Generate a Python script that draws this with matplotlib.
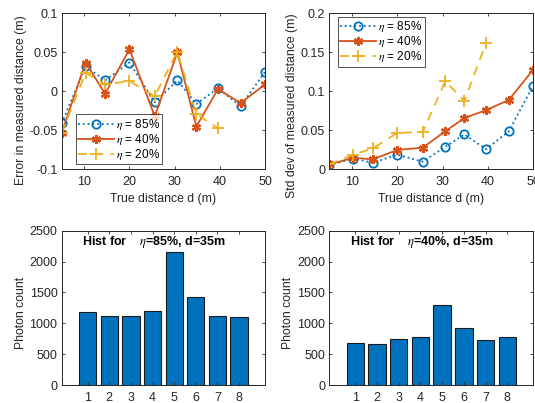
import numpy as np
import matplotlib.pyplot as plt

plt.rcParams['font.family'] = ['Liberation Sans', 'DejaVu Sans']
plt.rcParams['mathtext.fontset'] = 'stix'

# data
dist = [5, 10.3, 14.6, 20, 25.6, 30.6, 34.8, 39.6, 44.6, 50]
dist20 = dist[:8]

err85 = [-0.041, 0.032, 0.014, 0.037, -0.014, 0.014, -0.016, 0.004, -0.019, 0.025]
err40 = [-0.053, 0.037, -0.003, 0.054, -0.032, 0.050, -0.045, 0.003, -0.015, 0.009]
err20 = [-0.053, 0.024, 0.009, 0.013, -0.006, 0.051, -0.029, -0.047]

std85 = [0.0056, 0.014, 0.0086, 0.019, 0.010, 0.029, 0.045, 0.026, 0.049, 0.1075]
std40 = [0.0065, 0.015, 0.013, 0.025, 0.028, 0.049, 0.066, 0.076, 0.089, 0.128]
std20 = [0.0065, 0.019, 0.027, 0.047, 0.048, 0.113, 0.088, 0.162]

bins = [1, 2, 3, 4, 5, 6, 7, 8]
hist85 = [1185, 1120, 1115, 1200, 2150, 1425, 1120, 1105]
hist40 = [685, 658, 748, 785, 1300, 925, 735, 770]

labels = [r'$\eta$ = 85%', r'$\eta$ = 40%', r'$\eta$ = 20%']

c_blue = '#0072BD'
c_red = '#D95319'
c_yel = '#EDB120'
c_ax = '#262626'

fig = plt.figure(figsize=(5.35, 4.03), dpi=100)
W, H = 535, 403


def make_ax(x0, x1, y0, y1):
    ax = fig.add_axes([x0 / W, 1 - y1 / H, (x1 - x0) / W, (y1 - y0) / H])
    ax.tick_params(direction='in', length=2.5, width=0.6, top=True, right=True,
                   labelsize=9, colors=c_ax)
    ax.tick_params(axis='x', pad=5)
    ax.tick_params(axis='y', pad=3)
    for s in ax.spines.values():
        s.set_linewidth(0.7)
        s.set_color(c_ax)
    return ax


def style_lines(ax, x, a, b, xc, c):
    ax.plot(x, a, ':', color=c_blue, lw=1.3, marker='o', ms=6, mfc='none', mew=1.3, label=labels[0])
    ax.plot(x, b, '-', color=c_red, lw=1.3, marker=(6, 2, 0), ms=6.5, mew=1.6, label=labels[1])
    ax.plot(xc, c, '--', color=c_yel, lw=1.3, marker='+', ms=8, mew=1.3, dashes=(5, 4), label=labels[2])


def add_legend(ax, loc, anchor):
    leg = ax.legend(loc=loc, bbox_to_anchor=anchor, fontsize=8.5, frameon=True,
                    fancybox=False, edgecolor=c_ax, handlelength=3.0, borderpad=0.2,
                    labelspacing=0.0, handletextpad=0.2, borderaxespad=0)
    leg.get_frame().set_linewidth(0.7)


# top left
ax1 = make_ax(61.7, 265, 13.3, 169.5)
style_lines(ax1, dist, err85, err40, dist20, err20)
ax1.set_xlim(5, 50)
ax1.set_ylim(-0.1, 0.1)
ax1.set_xticks([10, 20, 30, 40, 50])
ax1.set_yticks([-0.1, -0.05, 0, 0.05, 0.1])
ax1.set_yticklabels(['-0.1', '-0.05', '0', '0.05', '0.1'])
ax1.set_xlabel('True distance d (m)', fontsize=8.8, color=c_ax, labelpad=3.5)
ax1.set_ylabel('Error in measured distance (m)', fontsize=8.8, color=c_ax, labelpad=2)
ax1.yaxis.label.set_y(0.445)
add_legend(ax1, 'lower left', (0.07, 0.035))

# top right
ax2 = make_ax(329.3, 533.3, 13.3, 169.5)
style_lines(ax2, dist, std85, std40, dist20, std20)
ax2.set_xlim(5, 50)
ax2.set_ylim(0, 0.2)
ax2.set_xticks([10, 20, 30, 40, 50])
ax2.set_yticks([0, 0.05, 0.1, 0.15, 0.2])
ax2.set_yticklabels(['0', '0.05', '0.1', '0.15', '0.2'])
ax2.set_xlabel('True distance d (m)', fontsize=8.8, color=c_ax, labelpad=3.5)
ax2.set_ylabel('Std dev of measured distance (m)', fontsize=8.8, color=c_ax, labelpad=2)
ax2.yaxis.label.set_y(0.41)
add_legend(ax2, 'upper left', (0.043, 0.976))

# bottom histograms
for (x0, x1), vals, eta in [((61.7, 265), hist85, '85'), ((329.3, 533.3), hist40, '40')]:
    ax = make_ax(x0, x1, 230.7, 385)
    ax.bar(bins, vals, width=0.8, color=c_blue, edgecolor='#1a1a1a', linewidth=0.8)
    ax.set_xlim(-0.2, 9.2)
    ax.set_ylim(0, 2500)
    ax.set_xticks(bins)
    ax.set_yticks([0, 500, 1000, 1500, 2000, 2500])
    ax.set_ylabel('Photon count', fontsize=8.8, color=c_ax, labelpad=2)
    ax.yaxis.label.set_y(0.47)
    ax.text(0.1, 0.925, r'Hist for    $\eta$=' + eta + '%, d=35m', transform=ax.transAxes,
            fontsize=9, fontweight='bold', va='center', ha='left', color='black')

fig.savefig('out.png', dpi=100)
